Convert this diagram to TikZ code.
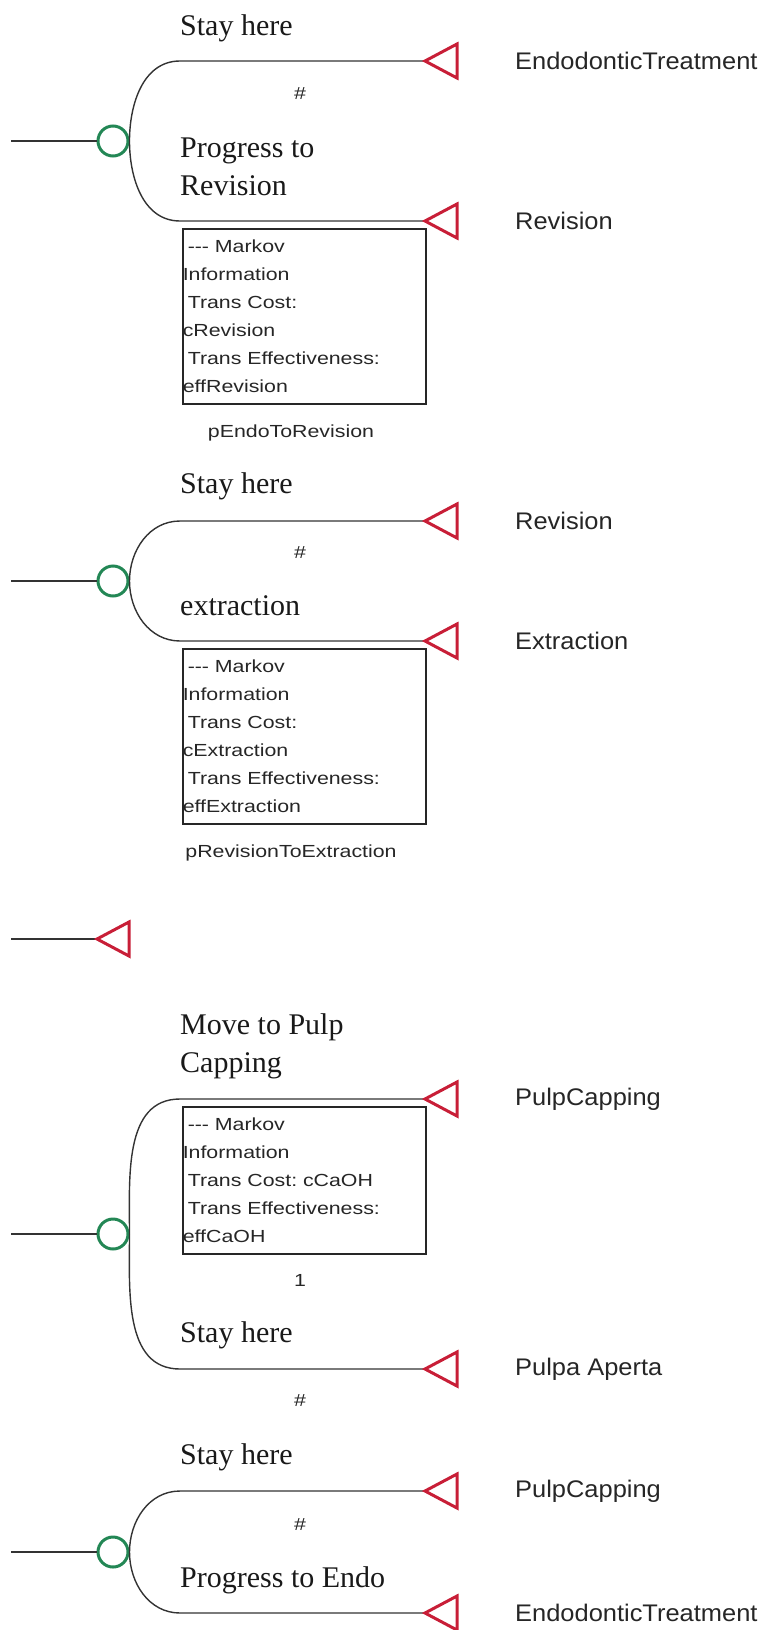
\documentclass[tikz,border=0pt]{standalone}
\usepackage{fontspec}
\setmainfont{Liberation Serif}
\newfontfamily\labfont[FakeStretch=1.06]{Liberation Sans}
\newfontfamily\boxfont[FakeStretch=1.22]{Liberation Sans}
\usetikzlibrary{positioning}
\definecolor{chgreen}{RGB}{35,135,85}
\definecolor{termred}{RGB}{200,30,55}

\begin{document}
\begin{tikzpicture}[x=1pt, y=-1pt,
  branch/.style = {draw=black!80, line width=1.4pt},
  chance/.style = {draw=chgreen, circle, line width=3pt, minimum size=30pt, inner sep=0pt},
  term/.style = {draw=termred, line width=3pt, line join=miter},
  choice/.style = {font=\fontsize{30}{37.5}\selectfont, align=left, anchor=base west, inner sep=0pt, text=black!90},
  endtxt/.style = {font=\labfont\fontsize{24}{28}\selectfont, inner sep=0pt, text=black!85},
  infobox/.style = {draw=black!85, line width=1.5pt, anchor=north west, text width=243pt, inner sep=0pt, align=left, font=\boxfont\fontsize{17.5}{28}\selectfont\frenchspacing, text=black!85},
  prob/.style = {font=\boxfont\fontsize{17.5}{21}\selectfont, inner sep=0pt, text=black!85}]
\useasboundingbox (0,0) rectangle (765,1630);

\node[chance] (c1) at (113,141) {};
\coordinate (in1) at (11,141);
\coordinate (e1a) at (425,61);
\coordinate (e1b) at (425,221);
\draw[branch] (in1) -- (c1);
\draw[branch] (c1.east) to[out=90,in=180] (180,61) -- (e1a);
\draw[branch] (c1.east) to[out=270,in=180] (180,221) -- (e1b);
\draw[term] (e1a) -- ++(32,-17) -- ++(0,34) -- cycle;
\draw[term] (e1b) -- ++(32,-17) -- ++(0,34) -- cycle;
\node[choice] (s1a) at (180,35) {Stay here};
\node[prob] (h1) at (300,94) {\#};
\node[choice] (s1b) at (180,195) {Progress to\\Revision};
\node[infobox, minimum height=175pt] (box1) at (182,228) {\hspace*{5pt}-{}-{}- Markov\\Information\\\hspace*{5pt}Trans Cost:\\cRevision\\\hspace*{5pt}Trans Effectiveness:\\effRevision};
\node[prob, anchor=base] (p1) at (291,437) {pEndoToRevision};
\node[endtxt, right=90pt of e1a] (t1a) {EndodonticTreatment};
\node[endtxt, right=90pt of e1b] (t1b) {Revision};

\node[chance] (c2) at (113,581) {};
\coordinate (in2) at (11,581);
\coordinate (e2a) at (425,521);
\coordinate (e2b) at (425,641);
\draw[branch] (in2) -- (c2);
\draw[branch] (c2.east) to[out=90,in=180] (180,521) -- (e2a);
\draw[branch] (c2.east) to[out=270,in=180] (180,641) -- (e2b);
\draw[term] (e2a) -- ++(32,-17) -- ++(0,34) -- cycle;
\draw[term] (e2b) -- ++(32,-17) -- ++(0,34) -- cycle;
\node[choice] (s2a) at (180,493) {Stay here};
\node[prob] (h2) at (300,553) {\#};
\node[choice] (s2b) at (180,615) {extraction};
\node[infobox, minimum height=175pt] (box2) at (182,648) {\hspace*{5pt}-{}-{}- Markov\\Information\\\hspace*{5pt}Trans Cost:\\cExtraction\\\hspace*{5pt}Trans Effectiveness:\\effExtraction};
\node[prob, anchor=base] (p2) at (291,857) {pRevisionToExtraction};
\node[endtxt, right=90pt of e2a] (t2a) {Revision};
\node[endtxt, right=90pt of e2b] (t2b) {Extraction};

\coordinate (in3) at (11,939);
\coordinate (e3) at (97,939);
\draw[branch] (in3) -- (e3);
\draw[term] (e3) -- ++(32,-17) -- ++(0,34) -- cycle;

\node[chance] (c4) at (113,1234) {};
\coordinate (in4) at (11,1234);
\coordinate (e4a) at (425,1099);
\coordinate (e4b) at (425,1369);
\draw[branch] (in4) -- (c4);
\draw[branch] (c4.east) to[out=90,in=180] (180,1099) -- (e4a);
\draw[branch] (c4.east) to[out=270,in=180] (180,1369) -- (e4b);
\draw[term] (e4a) -- ++(32,-17) -- ++(0,34) -- cycle;
\draw[term] (e4b) -- ++(32,-17) -- ++(0,34) -- cycle;
\node[choice] (s4a) at (180,1072) {Move to Pulp\\Capping};
\node[infobox, minimum height=147pt, fill=white] (box4) at (182,1106) {\hspace*{5pt}-{}-{}- Markov\\Information\\\hspace*{5pt}Trans Cost: cCaOH\\\hspace*{5pt}Trans Effectiveness:\\effCaOH};
\node[prob] (p4) at (300,1280) {1};
\node[choice] (s4b) at (180,1342) {Stay here};
\node[prob] (h4) at (300,1400) {\#};
\node[endtxt, right=90pt of e4a] (t4a) {PulpCapping};
\node[endtxt, right=90pt of e4b] (t4b) {Pulpa Aperta};

\node[chance] (c5) at (113,1552) {};
\coordinate (in5) at (11,1552);
\coordinate (e5a) at (425,1491);
\coordinate (e5b) at (425,1613);
\draw[branch] (in5) -- (c5);
\draw[branch] (c5.east) to[out=90,in=180] (180,1491) -- (e5a);
\draw[branch] (c5.east) to[out=270,in=180] (180,1613) -- (e5b);
\draw[term] (e5a) -- ++(32,-17) -- ++(0,34) -- cycle;
\draw[term] (e5b) -- ++(32,-17) -- ++(0,34) -- cycle;
\node[choice] (s5a) at (180,1464) {Stay here};
\node[prob] (h5) at (300,1524) {\#};
\node[choice] (s5b) at (180,1587) {Progress to Endo};
\node[endtxt, right=90pt of e5a] (t5a) {PulpCapping};
\node[endtxt, right=90pt of e5b] (t5b) {EndodonticTreatment};
\end{tikzpicture}
\end{document}
